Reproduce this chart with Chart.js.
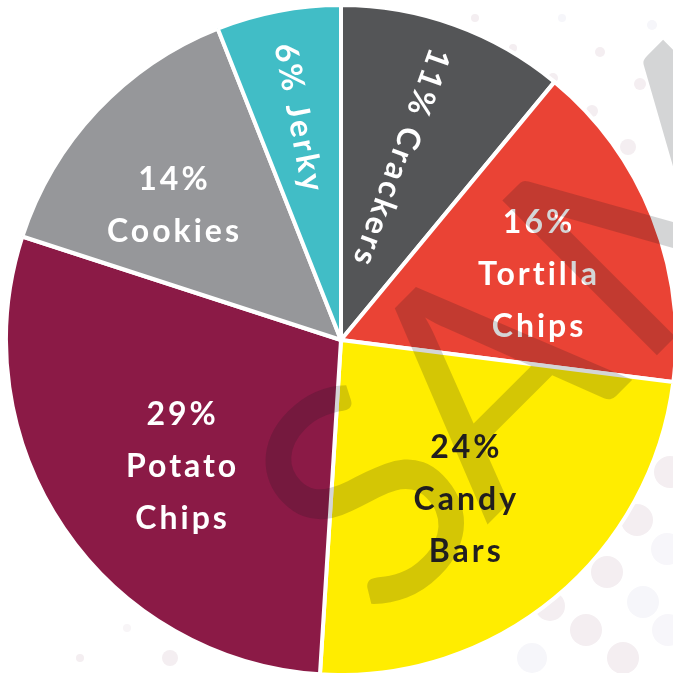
<!DOCTYPE html>
<html><head><meta charset="utf-8">
<script src="https://cdn.jsdelivr.net/npm/chart.js@4"></script>
<style>html,body{margin:0;padding:0;background:#fff;overflow:hidden}canvas{display:block}</style>
</head><body><canvas id="c" width="673" height="673"></canvas>
<script>
// ---- data ----
const categories = ['Crackers', 'Tortilla Chips', 'Candy Bars', 'Potato Chips', 'Cookies', 'Jerky'];
const shares = [11, 16, 24, 29, 14, 6];
const sliceColors = ['#545557', '#EA4335', '#FFED00', '#8B1A46', '#96979A', '#41BDC6'];
const labelColors = ['#ffffff', '#ffffff', '#231F20', '#ffffff', '#ffffff', '#ffffff'];

// ---- label placement (styling only) ----
const labelRadius = [193, 207, 202, 204, 215, 227];
const labelAngleShift = [-1.6, 3.3, 1.8, -4.2, -4.6, 0];
const labelRotated = [true, false, false, false, false, true];
const labelFont = '700 32px Lato';
const labelSpacing = 3;
const lineHeight = 52;

// ---- decoration (background dots, watermark) ----
const dotSpots = [
  [670,472,16,'#F4EEF1'],[637,520,16,'#F4EEF1'],[667,549,16,'#F7F6FA'],[607,572,16,'#F4EEF1'],
  [643,602,16,'#F6F6FA'],[586,630,16,'#F4EEF1'],[623,658,16,'#F4EEF1'],[550,606,15,'#F4EEF1'],
  [532,658,15,'#F6F6FA'],[668,630,16,'#F7F6FA'],
  [475,18,4,'#F4EEF1'],[562,18,4,'#F6F6FA'],[513,48,4,'#F4EEF1'],[600,52,5,'#F4EEF1'],
  [652,25,5,'#F6F6FA'],[553,78,5,'#F4EEF1'],[640,84,6,'#F4EEF1'],[592,111,6,'#F4EEF1'],
  [628,147,8,'#F4EEF1'],[80,658,4,'#F4EEF1'],[170,658,8,'#F4EEF1'],[127,628,4,'#F8F5F7']
];
const watermarkText = 'SAMPLE';

const dotsPlugin = {
  id: 'dots',
  beforeDatasetsDraw(chart) {
    const ctx = chart.ctx;
    ctx.save();
    dotSpots.forEach(([x, y, r, c]) => {
      ctx.beginPath(); ctx.arc(x, y, r, 0, Math.PI * 2);
      ctx.fillStyle = c; ctx.fill();
    });
    ctx.restore();
  }
};

const labelPlugin = {
  id: 'sliceLabels',
  afterDatasetsDraw(chart) {
    const ctx = chart.ctx;
    const meta = chart.getDatasetMeta(0);
    ctx.save();
    ctx.font = labelFont;
    ctx.textAlign = 'center';
    ctx.textBaseline = 'middle';
    try { ctx.letterSpacing = labelSpacing + 'px'; } catch (e) {}
    const dx = labelSpacing / 2;
    meta.data.forEach((arc, i) => {
      const p = arc.getProps(['x', 'y', 'startAngle', 'endAngle'], true);
      const mid = (p.startAngle + p.endAngle) / 2;
      const a = mid + labelAngleShift[i] * Math.PI / 180;
      const lx = p.x + labelRadius[i] * Math.cos(a);
      const ly = p.y + labelRadius[i] * Math.sin(a);
      ctx.fillStyle = labelColors[i];
      if (labelRotated[i]) {
        ctx.save();
        ctx.translate(lx, ly);
        ctx.rotate(mid + Math.PI);
        ctx.fillText(shares[i] + '% ' + categories[i], dx, 0);
        ctx.restore();
      } else {
        const lines = [shares[i] + '%'].concat(categories[i].split(' '));
        const y0 = ly - (lines.length - 1) * lineHeight / 2;
        lines.forEach((t, k) => ctx.fillText(t, lx + dx, y0 + k * lineHeight));
      }
    });
    ctx.restore();
  }
};

const watermarkPlugin = {
  id: 'watermark',
  afterDraw(chart) {
    const ctx = chart.ctx;
    ctx.save();
    ctx.translate(562, 450);
    ctx.rotate(-Math.PI / 4);
    ctx.font = '400 305px Lato';
    try { ctx.letterSpacing = '6px'; } catch (e) {}
    const first = watermarkText.charAt(0);
    const rest = watermarkText.slice(1);
    const wS = ctx.measureText(first).width;
    const wA = ctx.measureText(rest.charAt(0)).width;
    const x0 = -(wS + wA / 2);
    ctx.fillStyle = 'rgba(18,20,28,0.18)';
    ctx.textBaseline = 'alphabetic';
    ctx.textAlign = 'left';
    ctx.fillText(first, x0 + 24, 0);
    ctx.fillText(rest, x0 + wS, 0);
    ctx.restore();
  }
};

new Chart(document.getElementById('c'), {
  type: 'pie',
  data: {
    labels: categories,
    datasets: [{
      data: shares,
      backgroundColor: sliceColors,
      borderColor: '#ffffff',
      borderWidth: 4,
      hoverOffset: 0,
      radius: 335,
      clip: false
    }]
  },
  options: {
    responsive: false,
    animation: false,
    events: [],
    layout: { padding: { left: 9, top: 7, right: 0, bottom: 0 } },
    plugins: { legend: { display: false }, tooltip: { enabled: false } }
  },
  plugins: [dotsPlugin, labelPlugin, watermarkPlugin]
});
</script>
</body></html>
